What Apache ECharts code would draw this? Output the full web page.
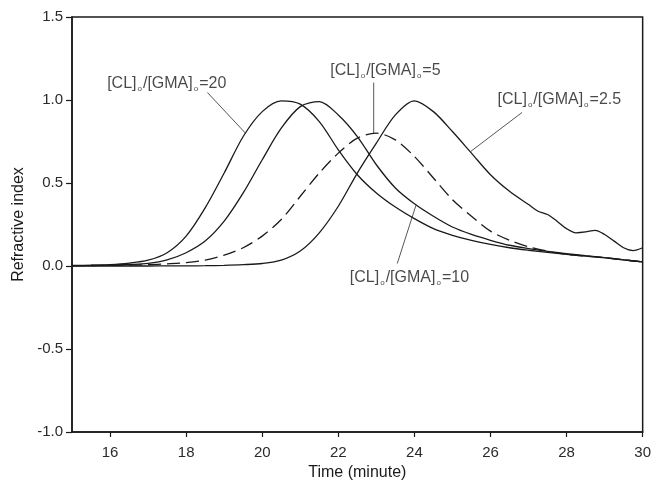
<!DOCTYPE html>
<html>
<head>
<meta charset="utf-8">
<title>Refractive index vs time</title>
<script src="https://cdn.jsdelivr.net/npm/echarts@6/dist/echarts.min.js"></script>
<style>
  html, body { margin: 0; padding: 0; background: #fff; }
  #chart { width: 654px; height: 490px; }
</style>
</head>
<body>
<div id="chart"></div>
<script>
// Elution traces: time (minutes) and refractive index signal
const time = [15, 15.5, 16, 16.5, 17, 17.5, 18, 18.5, 19, 19.5, 20, 20.5, 21, 21.5, 22, 22.5, 23, 23.5, 24, 24.5, 25, 25.5, 26, 26.5, 27, 27.5, 28, 28.5, 29, 29.5, 30];
const ri20 = [0.003, 0.005, 0.008, 0.017, 0.035, 0.08, 0.18, 0.35, 0.56, 0.78, 0.93, 0.995, 0.975, 0.87, 0.70, 0.55, 0.44, 0.355, 0.285, 0.225, 0.185, 0.155, 0.13, 0.11, 0.095, 0.082, 0.07, 0.06, 0.05, 0.037, 0.025];
const ri10 = [0.002, 0.003, 0.005, 0.009, 0.016, 0.037, 0.08, 0.15, 0.27, 0.44, 0.64, 0.83, 0.96, 0.99, 0.91, 0.78, 0.61, 0.47, 0.375, 0.30, 0.235, 0.19, 0.155, 0.125, 0.105, 0.088, 0.075, 0.062, 0.05, 0.037, 0.025];
const ri5  = [0.002, 0.003, 0.004, 0.006, 0.008, 0.013, 0.02, 0.035, 0.065, 0.11, 0.18, 0.28, 0.42, 0.56, 0.68, 0.77, 0.80, 0.76, 0.66, 0.53, 0.40, 0.30, 0.21, 0.155, 0.115, 0.09, 0.07, 0.06, 0.05, 0.037, 0.025];

// The lowest-ratio trace is sampled more finely in its tail
const time25 = [15, 15.5, 16, 16.5, 17, 17.5, 18, 18.5, 19, 19.5, 20, 20.5, 21, 21.5, 22, 22.5, 23, 23.5, 24, 24.5, 25, 25.5, 26, 26.5, 27, 27.25, 27.5, 27.75, 28, 28.25, 28.5, 28.75, 29, 29.25, 29.5, 29.75, 30];
const ri25   = [0.0, 0.0, 0.0, 0.0, 0.0, 0.001, 0.001, 0.002, 0.004, 0.008, 0.015, 0.035, 0.09, 0.20, 0.36, 0.56, 0.74, 0.91, 0.995, 0.93, 0.81, 0.68, 0.55, 0.45, 0.37, 0.33, 0.31, 0.27, 0.225, 0.20, 0.205, 0.215, 0.19, 0.15, 0.11, 0.093, 0.11];

// Curve annotations: ratio value, text anchor and leader line (data coordinates)
const ratioLabels = ['20', '5', '2.5', '10'];
const labelAnchors = [[17.49, 1.10], [23.24, 1.175], [27.81, 1.00], [23.87, -0.07]];
const leaderLines = [
  [[18.56, 1.045], [19.56, 0.80]],
  [[22.93, 1.105], [22.93, 0.80]],
  [[26.83, 0.925], [25.48, 0.69]],
  [[23.55, 0.015], [24.04, 0.365]]
];

// Axis ticks
const xTicks = [16, 18, 20, 22, 24, 26, 28, 30];

const zip = (xs, ys) => xs.map((x, i) => [x, ys[i]]);

const ink = '#1a1a1a';
const baseFont = 'Liberation Sans, Arial, sans-serif';

function curve(data, dashed) {
  return {
    type: 'line',
    data: data,
    smooth: 0.3,
    showSymbol: false,
    symbol: 'none',
    silent: true,
    lineStyle: { color: ink, width: 1.3, type: dashed ? [13, 6] : 'solid' },
    z: 3
  };
}

const series = [
  curve(zip(time, ri20), false),
  curve(zip(time, ri10), false),
  curve(zip(time, ri5), true),
  curve(zip(time25, ri25), false)
];

leaderLines.forEach(seg => {
  series.push({
    type: 'line',
    data: seg,
    showSymbol: false,
    symbol: 'none',
    silent: true,
    lineStyle: { color: '#444', width: 0.9 },
    z: 2
  });
});

series.push({
  type: 'scatter',
  symbolSize: 0,
  silent: true,
  data: labelAnchors.map((p, i) => ({ value: p, ratio: ratioLabels[i] })),
  label: {
    show: true,
    position: 'inside',
    formatter: p => '{m|[CL]}{s|o}{m|/[GMA]}{s|o}{m|=' + p.data.ratio + '}',
    rich: {
      m: { fontFamily: baseFont, fontSize: 16, color: '#1a1a1a', lineHeight: 18 },
      s: { fontFamily: baseFont, fontSize: 8, color: '#1a1a1a', lineHeight: 8, verticalAlign: 'bottom', padding: [0, 1, 0, 1] }
    }
  },
  z: 4
});

const chart = echarts.init(document.getElementById('chart'), null, { renderer: 'canvas' });
chart.setOption({
  animation: false,
  backgroundColor: '#fff',
  grid: {
    left: 72, right: 8, top: 17, bottom: 58,
    show: true, borderColor: ink, borderWidth: 1.5, backgroundColor: 'transparent'
  },
  xAxis: {
    type: 'value',
    min: 15, max: 30,
    name: 'Time (minute)',
    nameLocation: 'middle',
    nameGap: 27,
    nameTextStyle: { fontFamily: baseFont, fontSize: 16, color: '#1a1a1a' },
    axisLine: { show: true, onZero: false, lineStyle: { color: ink, width: 1.5 } },
    axisTick: { show: true, inside: false, length: 5, customValues: xTicks, lineStyle: { color: ink, width: 1.2 } },
    axisLabel: { customValues: xTicks, margin: 13, fontFamily: baseFont, fontSize: 15, color: '#2a2a2a' },
    splitLine: { show: false }
  },
  yAxis: {
    type: 'value',
    min: -1, max: 1.5, interval: 0.5,
    name: 'Refractive index',
    nameLocation: 'middle',
    nameGap: 34,
    nameTextStyle: { fontFamily: baseFont, fontSize: 16, color: '#1a1a1a' },
    axisLine: { show: true, onZero: false, lineStyle: { color: ink, width: 1.5 } },
    axisTick: { show: true, inside: false, length: 6, lineStyle: { color: ink, width: 1.2 } },
    axisLabel: { margin: 9, fontFamily: baseFont, fontSize: 15, color: '#2a2a2a', formatter: v => v.toFixed(1) },
    splitLine: { show: false }
  },
  series: series
});
</script>
</body>
</html>
